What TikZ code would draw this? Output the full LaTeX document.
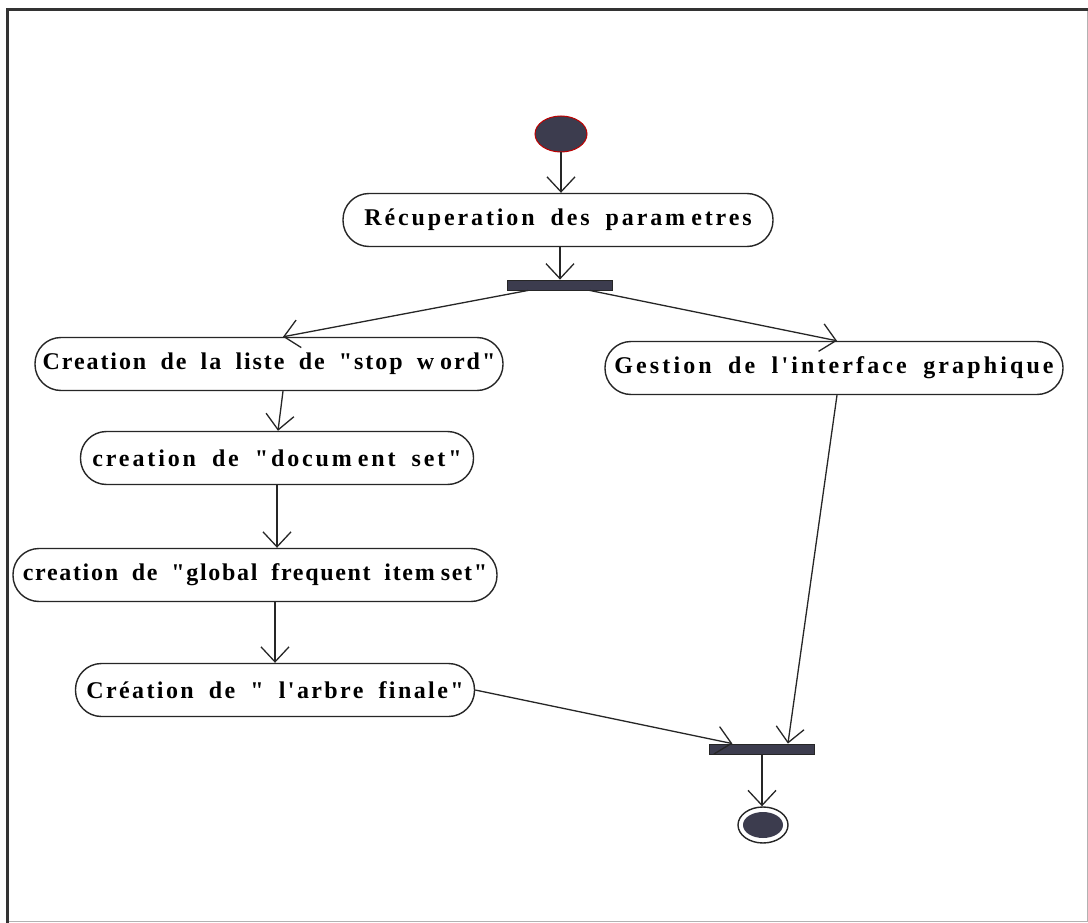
\documentclass[tikz,border=0pt]{standalone}
\usepackage{fontspec}
\newfontfamily\rosefont[LetterSpace=12,WordSpace=1.8,Ligatures=ResetAll]{Liberation Serif}
\usetikzlibrary{arrows.meta,calc,shapes.geometric}
\definecolor{barfill}{HTML}{3C3C4E}
\definecolor{inkline}{HTML}{262626}
% visible gap that the printer leaves after an "m"
\newcommand\mgap{\hspace{6pt}}
\newcommand\tracking[1]{\addfontfeature{LetterSpace=#1}}

\begin{document}
\begin{tikzpicture}[x=1pt,y=-1pt,
  action/.style={draw=inkline, line width=1.4pt, rounded corners=26pt,
    minimum height=53pt, inner sep=0pt, text=black,
    font=\rosefont\bfseries\fontsize{24}{28}\selectfont},
  syncbar/.style={draw=inkline, fill=barfill, minimum width=105pt,
    minimum height=10pt, inner sep=0pt, line width=0.8pt},
  flow/.style={draw=inkline, line width=1.3pt,
    -{Straight Barb[length=15pt,width=28pt]}},
]
\useasboundingbox (0,0) rectangle (1088,923);
\fill[white] (0,0) rectangle (1088,923);

% frame
\draw[black!30, line width=0.8pt] (1087,10) -- (1087,921) -- (7,921);
\draw[black!80, line width=3pt] (7,923) -- (7,10) -- (1088,10);

% start and end states
\node (start) [ellipse, draw=red!75!black, line width=1pt, fill=barfill,
  minimum width=52pt, minimum height=36pt] at (561,134) {};
\node (final) [ellipse, draw=inkline, line width=1.4pt,
  minimum width=50pt, minimum height=36pt] at (763,825) {};
\fill[barfill] (final.center) ellipse [x radius=20pt, y radius=13pt];

% activities
\node (recup)  [action, minimum width=430pt] at (558,220)
  {Récuperation des param\mgap etres};
\node (liste)  [action, minimum width=468pt] at (269,364)
  {\tracking{8}Creation de la liste de "stop w\mgap ord"};
\node (gestion)[action, minimum width=458pt] at (834,368)
  {\tracking{13}Gestion de l'interface graphique};
\node (doc)    [action, minimum width=393pt] at (277,458)
  {creation de "docum\mgap ent set"};
\node (global) [action, minimum width=484pt] at (255,575)
  {\tracking{7}creation de "global frequent item\mgap set"};
\node (arbre)  [action, minimum width=399pt] at (275,690)
  {\tracking{10}Création de " l'arbre finale"};

% synchronisation bars
\node (fork) [syncbar] at (560,285) {};
\node (join) [syncbar] at (762,749) {};

% transitions
\draw[flow] (start.south) -- (start.south |- recup.north);
\draw[flow] (recup.south -| fork.north) -- (fork.north);
\draw[flow] ($(fork.south west)!0.2!(fork.south east)$) -- ($(liste.north)+(14,0)$);
\draw[flow] ($(fork.south west)!0.78!(fork.south east)$) -- ($(gestion.north)+(3,0)$);
\draw[flow] ($(liste.south)+(14,0)$) -- ($(doc.north)+(1,0)$);
\draw[flow] (doc.south) -- (doc.south |- global.north);
\draw[flow] (arbre.north |- global.south) -- (arbre.north);
\draw[flow] (arbre.east) -- ($(join.north west)!0.22!(join.north east)$);
\draw[flow] ($(gestion.south)+(3,0)$) -- ($(join.north west)!0.745!(join.north east)$);
\draw[flow] (join.south) -- (join.south |- final.north);
\end{tikzpicture}
\end{document}
